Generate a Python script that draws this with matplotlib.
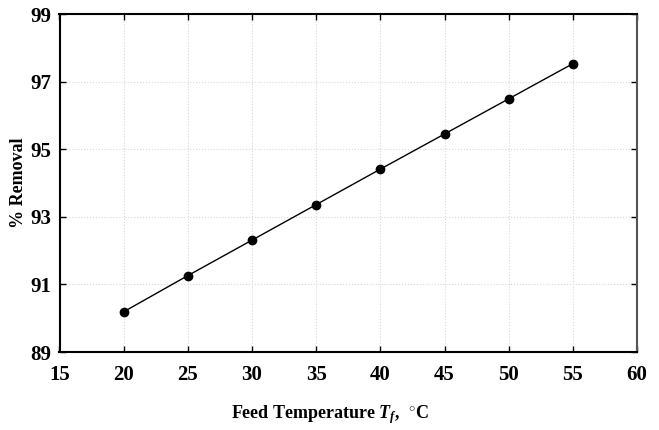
import numpy as np
import matplotlib.pyplot as plt

plt.rcParams['font.family'] = 'Liberation Serif'
plt.rcParams['font.weight'] = 'bold'
plt.rcParams['mathtext.fontset'] = 'custom'
plt.rcParams['mathtext.it'] = 'Liberation Serif:italic:bold'
plt.rcParams['mathtext.rm'] = 'Liberation Serif:bold'

# feed temperature (C) vs percent removal
temp = [20, 25, 30, 35, 40, 45, 50, 55]
removal = [90.19, 91.26, 92.31, 93.36, 94.41, 95.45, 96.49, 97.53]

xticks = [15, 20, 25, 30, 35, 40, 45, 50, 55, 60]
yticks = [89, 91, 93, 95, 97, 99]

fig = plt.figure(figsize=(6.59, 4.30), dpi=100)
ax = fig.add_axes([59.5 / 659, 1 - 352 / 430, (637 - 59.5) / 659, (352 - 14) / 430])

ax.plot(temp, removal, '-', color='black', lw=1.0, marker='o',
        markersize=6, markerfacecolor='black')

ax.set_xlim(15, 60)
ax.set_ylim(89, 99)
ax.set_xticks(xticks)
ax.set_yticks(yticks)
ax.tick_params(direction='in', length=4, width=1, top=True, right=True,
               labelsize=15)
ax.tick_params(axis='x', pad=9)
ax.tick_params(axis='y', pad=6)
for lab in ax.get_xticklabels() + ax.get_yticklabels():
    lab.set_fontweight('bold')

ax.grid(True, linestyle=':', color='#d8d8d8', lw=0.8)

for s in ['left', 'bottom', 'top']:
    ax.spines[s].set_linewidth(1.5)
ax.spines['right'].set_linewidth(1.5)
ax.spines['right'].set_color('#555555')

ax.set_xlabel(r'Feed Temperature $T_f$,  $^{\circ}$C', fontsize=13,
              fontweight='bold')
ax.xaxis.set_label_coords((330 - 59.5) / 577.5, -(403 - 352) / 338)
ax.set_ylabel('% Removal', fontsize=13, fontweight='bold')
ax.yaxis.set_label_coords(-(59.5 - 27) / 577.5, (352 - 183) / 338)

fig.savefig('out.png', dpi=100)
